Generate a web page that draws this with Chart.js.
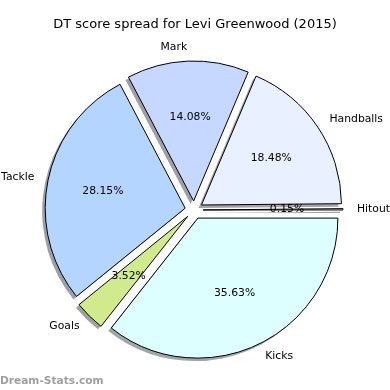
<!DOCTYPE html>
<html>
<head>
<meta charset="utf-8">
<script src="https://cdn.jsdelivr.net/npm/chart.js@4"></script>
<style>
  html, body { margin: 0; padding: 0; background: #fff; }
  #wrap { width: 390px; height: 390px; }
</style>
</head>
<body>
<div id="wrap"><canvas id="pie" width="390" height="390"></canvas></div>
<script>
// Slices in matplotlib order (counter-clockwise from 3 o'clock)
const CATEGORIES = ["Hitout", "Handballs", "Mark", "Tackle", "Goals", "Kicks"];
const PERCENTS = [0.15, 18.48, 14.08, 28.15, 3.52, 35.63];
const COLOURS = ["#F4F4F4", "#E9F0FF", "#C6D8FF", "#B4D5FF", "#D0EA8C", "#DDFFFF"];

const TITLE = "DT score spread for Levi Greenwood (2015)";
const WATERMARK = "Dream-Stats.com";

const FONT = "'DejaVu Sans', sans-serif";
const EXPLODE = 9;       // px each wedge is pushed out
const SHADOW_DX = -3;
const SHADOW_DY = 3;

// Chart.js goes clockwise on screen, so feed the slices reversed
const labels = CATEGORIES.slice().reverse();
const values = PERCENTS.slice().reverse();
const colours = COLOURS.slice().reverse();

function shadowOf(hex) {
  const n = parseInt(hex.slice(1), 16);
  const c = [(n >> 16) & 255, (n >> 8) & 255, n & 255];
  const s = c.map((v) => Math.round(v * 0.3 * 0.5 + 255 * 0.5));
  return `rgb(${s[0]},${s[1]},${s[2]})`;
}

function wedgePath(ctx, el, dx, dy) {
  const mid = (el.startAngle + el.endAngle) / 2;
  const cx = el.x + Math.cos(mid) * EXPLODE + dx;
  const cy = el.y + Math.sin(mid) * EXPLODE + dy;
  ctx.beginPath();
  ctx.moveTo(cx, cy);
  ctx.arc(cx, cy, el.outerRadius, el.startAngle, el.endAngle);
  ctx.closePath();
}

// matplotlib-style exploded wedges with shadows, drawn from the arc elements
const explodedPie = {
  id: "explodedPie",
  beforeDatasetDraw(chart, args) {
    const ctx = chart.ctx;
    const arcs = args.meta.data;
    ctx.save();
    arcs.forEach((el, i) => {
      wedgePath(ctx, el, SHADOW_DX, SHADOW_DY);
      ctx.fillStyle = shadowOf(colours[i]);
      ctx.fill();
    });
    arcs.forEach((el, i) => {
      wedgePath(ctx, el, 0, 0);
      ctx.fillStyle = colours[i];
      ctx.fill();
      ctx.lineWidth = 1;
      ctx.strokeStyle = "#000";
      ctx.lineJoin = "miter";
      ctx.stroke();
    });
    ctx.restore();
    return false;
  },
  afterDraw(chart) {
    const ctx = chart.ctx;
    const arcs = chart.getDatasetMeta(0).data;
    ctx.save();
    ctx.fillStyle = "#000";
    ctx.textBaseline = "middle";

    arcs.forEach((el, i) => {
      const mid = (el.startAngle + el.endAngle) / 2;
      const cos = Math.cos(mid);
      const sin = Math.sin(mid);
      const cx = el.x + cos * EXPLODE;
      const cy = el.y + sin * EXPLODE;
      const r = el.outerRadius;

      ctx.font = `10.8px ${FONT}`;
      ctx.textAlign = cos >= 0 ? "left" : "right";
      ctx.fillText(labels[i], cx + cos * r * 1.1, cy + sin * r * 1.1);

      ctx.textAlign = "center";
      ctx.fillText(values[i].toFixed(2) + "%", cx + cos * r * 0.6, cy + sin * r * 0.6);
    });

    ctx.font = `13px ${FONT}`;
    ctx.textAlign = "center";
    ctx.fillText(TITLE, 195, 25);

    ctx.font = `bold 10.6px ${FONT}`;
    ctx.textAlign = "left";
    ctx.textBaseline = "alphabetic";
    ctx.fillStyle = "#a0a0a0";
    ctx.fillText(WATERMARK, 0, 384);
    ctx.restore();
  },
};

new Chart(document.getElementById("pie"), {
  type: "pie",
  data: {
    labels,
    datasets: [{ data: values, backgroundColor: colours }],
  },
  options: {
    responsive: false,
    animation: false,
    rotation: 90,
    radius: 140,
    layout: { padding: { left: 0, right: 2, top: 30, bottom: 0 } },
    plugins: {
      legend: { display: false },
      title: { display: false },
      tooltip: { enabled: false },
    },
    events: [],
  },
  plugins: [explodedPie],
});
</script>
</body>
</html>
